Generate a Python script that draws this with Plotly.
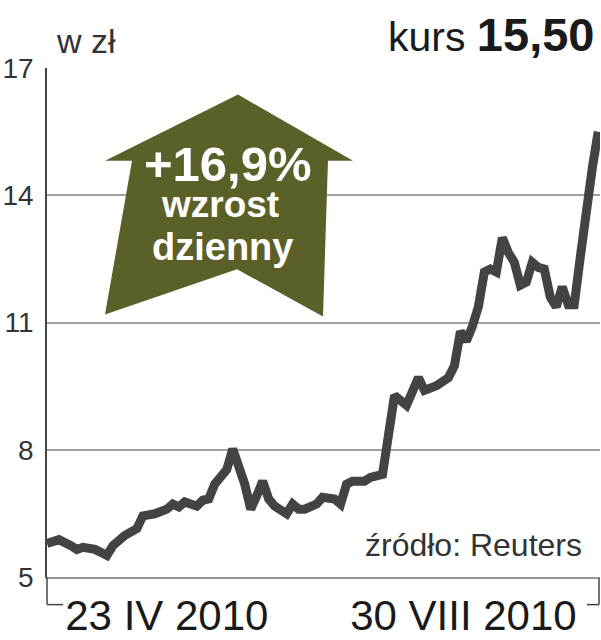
import plotly.graph_objects as go

# --- data ---
sessions = [0, 1, 2, 4, 5, 6, 8, 10, 11, 13, 15, 16, 18, 20, 21, 22, 23, 25, 26, 27,
            28, 30, 31, 33, 34, 35, 36, 37, 38, 40, 41, 42, 43, 45, 46, 48, 49, 50, 51, 53,
            54, 56, 57, 58, 60, 61, 62, 63, 65, 67, 68, 69, 70, 71, 72, 73, 74, 75, 76, 77,
            78, 79, 80, 81, 82, 83, 84, 85, 86, 87, 88, 89, 90, 91, 92]
prices = [5.79, 5.86, 5.88, 5.74, 5.65, 5.70, 5.65, 5.51, 5.74, 5.98, 6.14, 6.44, 6.49, 6.60, 6.72, 6.65, 6.77, 6.67, 6.81, 6.84,
          7.19, 7.53, 8.02, 7.19, 6.60, 6.91, 7.26, 6.84, 6.67, 6.49, 6.72, 6.60, 6.60, 6.72, 6.88, 6.84, 6.72, 7.19, 7.26, 7.26,
          7.35, 7.42, 8.35, 9.28, 9.05, 9.40, 9.70, 9.40, 9.51, 9.70, 9.98, 10.79, 10.56, 10.91, 11.37, 12.19, 12.26, 12.19, 13.00, 12.65,
          12.42, 11.88, 11.95, 12.42, 12.30, 12.26, 11.60, 11.37, 11.84, 11.42, 11.42, 12.53, 13.70, 14.63, 15.50]
y_ticks = [5, 8, 11, 14, 17]
x_labels = ["23 IV 2010", "30 VIII 2010"]
x_label_pos = [20, 69.5]

W, H = 601, 640
L, R, T, B = 47, 1, 68, 56
PW, PH = W - L - R, H - T - B


def px(x):
    return (x - L) / PW


def py(y):
    return (H - B - y) / PH


fig = go.Figure()
fig.add_trace(go.Scatter(x=sessions, y=prices, mode="lines",
                         line=dict(color="#434345", width=9), hoverinfo="skip",
                         cliponaxis=True))

# arrow polygon (decoration)
arrow = [(238, 95), (353, 162), (328, 162), (323, 320), (237, 272), (105, 318), (132, 162), (105, 162)]
path = "M " + " L ".join(f"{px(a):.4f},{py(b):.4f}" for a, b in arrow) + " Z"
shapes = [dict(type="path", path=path, xref="paper", yref="paper",
               fillcolor="#5b6028", line=dict(width=0), layer="above")]
# bottom brackets
for (x0, y0, x1, y1) in [(47, 584, 47, 612), (47, 612, 63, 612), (599, 585, 599, 612), (587, 612, 599, 612)]:
    shapes.append(dict(type="line", xref="paper", yref="paper", x0=px(x0), x1=px(x1), y0=py(y0), y1=py(y1),
                       line=dict(color="#444", width=1.5)))

annotations = [
    dict(text="+16,9%", x=px(228), y=py(165), xref="paper", yref="paper", showarrow=False,
         xanchor="center", yanchor="middle",
         font=dict(family="Liberation Sans", size=49, color="white", weight="bold")),
    dict(text="wzrost", x=px(220), y=py(206), xref="paper", yref="paper", showarrow=False,
         xanchor="center", yanchor="middle",
         font=dict(family="Liberation Sans", size=37, color="white", weight="bold")),
    dict(text="dzienny", x=px(222), y=py(249), xref="paper", yref="paper", showarrow=False,
         xanchor="center", yanchor="middle",
         font=dict(family="Liberation Sans", size=38, color="white", weight="bold")),
    dict(text="w zł", x=px(54), y=py(41), xref="paper", yref="paper", showarrow=False,
         xanchor="left", yanchor="middle", font=dict(family="Liberation Sans", size=34, color="#333")),
    dict(text="kurs <b style='font-size:47px'>15,50</b>", x=px(596), y=py(34), xref="paper", yref="paper",
         showarrow=False, xanchor="right", yanchor="middle",
         font=dict(family="Liberation Sans", size=41, color="#1a1a1a")),
    dict(text="źródło: Reuters", x=px(584), y=py(552), xref="paper", yref="paper", showarrow=False,
         xanchor="right", yanchor="middle",
         font=dict(family="Liberation Sans", size=32, color="#333")),
]

fig.update_layout(
    width=W, height=H, margin=dict(l=L, r=R, t=T, b=B),
    paper_bgcolor="white", plot_bgcolor="white", showlegend=False,
    shapes=shapes, annotations=annotations,
    xaxis=dict(range=[0, 92.3], tickvals=x_label_pos, ticktext=x_labels, ticks="",
               showgrid=False, zeroline=False, showline=True, linecolor="#999", linewidth=1.5,
               tickfont=dict(family="Liberation Sans", size=42, color="#1a1a1a"), ticklabelstandoff=1),
    yaxis=dict(range=[5, 17], tickvals=y_ticks, ticks="", showgrid=True, gridcolor="#a0a0a0", gridwidth=1.5,
               zeroline=False, showline=True, linecolor="#444", linewidth=1.5,
               tickfont=dict(family="Liberation Sans", size=28, color="#333"), ticklabelstandoff=6),
)
fig.write_html("out.html", config={"displayModeBar": False},
               post_script="document.body.style.margin='0';document.body.style.overflow='hidden';")
